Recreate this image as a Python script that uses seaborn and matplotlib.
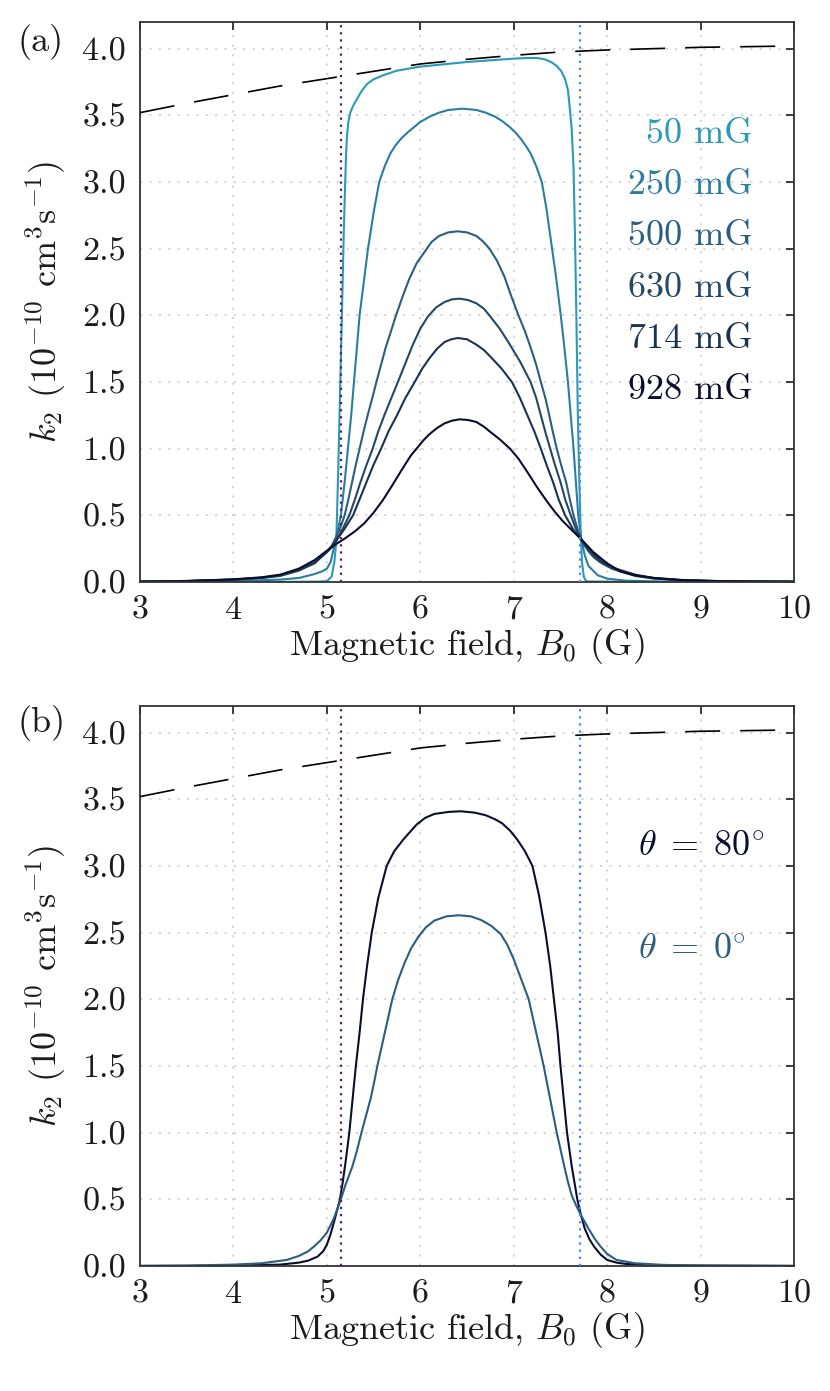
import numpy as np
import pandas as pd
import matplotlib
matplotlib.use("Agg")
import matplotlib.pyplot as plt
import seaborn as sns

# ---- values ----
# panel (a): k2 vs B0 for several field inhomogeneities
field_50 = [3.0, 4.0, 4.6, 4.9, 5.0, 5.05, 5.08, 5.1, 5.12, 5.14, 5.16, 5.18, 5.196, 5.205, 5.215, 5.23,
            5.25, 5.28, 5.32, 5.37, 5.43, 5.5, 5.6, 5.75, 6.0, 6.5, 7.0, 7.15, 7.25, 7.33, 7.4,
            7.46, 7.51, 7.55, 7.58, 7.6, 7.62, 7.64, 7.655, 7.67, 7.685, 7.7, 7.715, 7.73, 7.75,
            7.77, 7.8, 8.5, 10.0]
k2_50 = [0.0, 0.0, 0.001, 0.003, 0.006, 0.04, 0.15, 0.3, 0.8, 1.4, 1.98, 2.6, 3.0, 3.2, 3.35, 3.45,
         3.52, 3.57, 3.62, 3.68, 3.735, 3.77, 3.8, 3.835, 3.865, 3.9, 3.925, 3.93, 3.93, 3.92, 3.9,
         3.87, 3.83, 3.77, 3.69, 3.55, 3.4, 3.1, 2.6, 2.0, 1.3, 0.8, 0.4, 0.15, 0.04,
         0.01, 0.004, 0.0, 0.0]

field_250 = [3.0, 3.5, 4.0, 4.5, 4.7, 4.87, 4.95, 5.0, 5.04, 5.08, 5.12, 5.15, 5.19, 5.225, 5.26, 5.29,
             5.32, 5.35, 5.395, 5.44, 5.5, 5.56, 5.62, 5.68, 5.74, 5.8, 5.87, 5.93, 6.0, 6.1, 6.2,
             6.3, 6.45, 6.6, 6.7, 6.8, 6.88, 6.96, 7.02, 7.08, 7.13, 7.18, 7.24, 7.3, 7.35, 7.4,
             7.45, 7.5, 7.54, 7.58, 7.61, 7.64, 7.665, 7.69, 7.72, 7.76, 7.8, 7.9, 8.0, 8.2, 8.6, 10.0]
k2_250 = [0.001, 0.003, 0.007, 0.018, 0.03, 0.06, 0.08, 0.1, 0.15, 0.27, 0.4, 0.5, 0.75, 1.0, 1.25, 1.5,
          1.75, 2.0, 2.25, 2.5, 2.77, 3.0, 3.12, 3.215, 3.28, 3.33, 3.375, 3.41, 3.45, 3.49, 3.52,
          3.54, 3.55, 3.54, 3.52, 3.49, 3.455, 3.41, 3.37, 3.32, 3.27, 3.215, 3.12, 3.0, 2.8, 2.55,
          2.3, 2.02, 1.77, 1.5, 1.25, 1.0, 0.75, 0.5, 0.33, 0.2, 0.12, 0.05, 0.025, 0.01, 0.003, 0.001]

field_500 = [3.0, 3.5, 4.0, 4.3, 4.5, 4.7, 4.87, 5.0, 5.05, 5.1, 5.15, 5.19, 5.23, 5.27, 5.31, 5.35,
             5.4, 5.44, 5.49, 5.53, 5.58, 5.63, 5.69, 5.74, 5.81, 5.88, 5.96, 6.05, 6.12, 6.2, 6.3,
             6.4, 6.5, 6.6, 6.67, 6.74, 6.82, 6.9, 6.97, 7.05, 7.12, 7.18, 7.24, 7.29, 7.34, 7.38,
             7.42, 7.46, 7.51, 7.56, 7.6, 7.64, 7.69, 7.75, 7.8, 7.85, 7.92, 8.0, 8.14, 8.3, 8.5,
             8.8, 9.2, 9.6, 10.0]
k2_500 = [0.002, 0.006, 0.016, 0.03, 0.045, 0.085, 0.14, 0.23, 0.27, 0.34, 0.42, 0.5, 0.62, 0.75, 0.88, 1.0,
          1.15, 1.26, 1.39, 1.5, 1.63, 1.76, 1.89, 2.0, 2.14, 2.27, 2.39, 2.48, 2.55, 2.595, 2.622,
          2.63, 2.622, 2.595, 2.555, 2.5, 2.41, 2.29, 2.15, 2.0, 1.88, 1.76, 1.63, 1.5, 1.375, 1.25,
          1.12, 1.0, 0.87, 0.75, 0.62, 0.5, 0.38, 0.28, 0.23, 0.19, 0.15, 0.12, 0.08, 0.045, 0.025,
          0.012, 0.005, 0.003, 0.002]

field_630 = [3.0, 3.5, 4.0, 4.3, 4.5, 4.7, 4.87, 5.0, 5.05, 5.1, 5.17, 5.24, 5.3, 5.36, 5.42, 5.49,
             5.55, 5.62, 5.69, 5.76, 5.84, 5.92, 6.0, 6.08, 6.17, 6.26, 6.34, 6.42, 6.51, 6.6, 6.68,
             6.75, 6.85, 6.95, 7.07, 7.18, 7.24, 7.29, 7.34, 7.39, 7.44, 7.5, 7.55, 7.61, 7.67, 7.73,
             7.8, 7.87, 7.95, 8.05, 8.14, 8.3, 8.5, 8.8, 9.2, 9.6, 10.0]
k2_630 = [0.002, 0.007, 0.018, 0.032, 0.05, 0.09, 0.145, 0.225, 0.26, 0.31, 0.4, 0.5, 0.62, 0.75, 0.87, 1.0,
          1.13, 1.26, 1.38, 1.5, 1.64, 1.78, 1.9, 1.99, 2.06, 2.1, 2.12, 2.125, 2.115, 2.09, 2.05,
          1.99, 1.9, 1.79, 1.65, 1.5, 1.38, 1.25, 1.12, 1.0, 0.88, 0.75, 0.62, 0.5, 0.39, 0.31,
          0.24, 0.18, 0.14, 0.1, 0.08, 0.05, 0.028, 0.013, 0.006, 0.003, 0.002]

field_714 = [3.0, 3.5, 4.0, 4.3, 4.5, 4.7, 4.87, 5.0, 5.05, 5.1, 5.19, 5.28, 5.35, 5.43, 5.5, 5.58,
             5.66, 5.75, 5.84, 5.94, 6.02, 6.1, 6.18, 6.26, 6.33, 6.4, 6.5, 6.6, 6.68, 6.75, 6.87,
             6.98, 7.06, 7.14, 7.22, 7.29, 7.35, 7.42, 7.48, 7.55, 7.64, 7.73, 7.8, 7.88, 7.95, 8.05,
             8.14, 8.3, 8.5, 8.8, 9.2, 9.6, 10.0]
k2_714 = [0.003, 0.007, 0.018, 0.032, 0.05, 0.09, 0.145, 0.225, 0.265, 0.31, 0.4, 0.5, 0.62, 0.76, 0.88, 1.0,
          1.13, 1.25, 1.38, 1.5, 1.6, 1.68, 1.75, 1.8, 1.82, 1.83, 1.82, 1.78, 1.74, 1.69, 1.6,
          1.5, 1.39, 1.26, 1.13, 1.0, 0.88, 0.75, 0.62, 0.5, 0.39, 0.31, 0.25, 0.19, 0.15, 0.11,
          0.09, 0.055, 0.03, 0.014, 0.006, 0.003, 0.002]

field_928 = [3.0, 3.5, 4.0, 4.3, 4.5, 4.7, 4.87, 5.0, 5.1, 5.2, 5.3, 5.4, 5.5, 5.6, 5.7, 5.8,
             5.9, 5.96, 6.03, 6.1, 6.18, 6.26, 6.34, 6.42, 6.51, 6.6, 6.68, 6.75, 6.85, 6.96, 7.05,
             7.15, 7.25, 7.35, 7.43, 7.52, 7.62, 7.73, 7.85, 8.0, 8.14, 8.3, 8.5, 8.8, 9.2, 9.6, 10.0]
k2_928 = [0.003, 0.008, 0.02, 0.035, 0.055, 0.1, 0.165, 0.235, 0.285, 0.33, 0.38, 0.44, 0.52, 0.615, 0.725, 0.84,
          0.95, 1.0, 1.06, 1.11, 1.155, 1.19, 1.21, 1.22, 1.215, 1.2, 1.165, 1.125, 1.07, 1.0, 0.925,
          0.82, 0.71, 0.61, 0.535, 0.46, 0.39, 0.315, 0.225, 0.14, 0.08, 0.05, 0.03, 0.015, 0.007, 0.004, 0.002]

# panel (b): two angles
field_th80 = [3.0, 3.5, 4.0, 4.5, 4.7, 4.8, 4.9, 4.96, 5.0, 5.04, 5.08, 5.11, 5.14, 5.17, 5.2, 5.24,
              5.275, 5.31, 5.35, 5.386, 5.43, 5.48, 5.55, 5.64, 5.72, 5.82, 5.96, 6.05, 6.15, 6.3,
              6.43, 6.58, 6.7, 6.8, 6.875, 6.96, 7.04, 7.12, 7.2, 7.27, 7.34, 7.39, 7.43, 7.47,
              7.5, 7.535, 7.57, 7.62, 7.68, 7.72, 7.76, 7.81, 7.86, 7.93, 8.0, 8.1, 8.2, 8.5, 9.0, 10.0]
k2_th80 = [0.0, 0.001, 0.003, 0.01, 0.025, 0.04, 0.07, 0.11, 0.16, 0.24, 0.34, 0.42, 0.5, 0.63, 0.78, 1.0,
           1.25, 1.5, 1.75, 2.0, 2.25, 2.5, 2.76, 3.0, 3.11, 3.2, 3.31, 3.36, 3.39, 3.405,
           3.41, 3.4, 3.38, 3.35, 3.32, 3.265, 3.195, 3.11, 3.0, 2.78, 2.5, 2.25, 2.0, 1.75,
           1.5, 1.25, 1.0, 0.75, 0.5, 0.38, 0.28, 0.2, 0.145, 0.085, 0.045, 0.025, 0.015, 0.006, 0.002, 0.0]

field_th0 = [3.0, 3.5, 4.0, 4.3, 4.57, 4.7, 4.8, 4.86, 4.93, 5.0, 5.07, 5.14, 5.2, 5.27, 5.32, 5.37,
             5.42, 5.47, 5.505, 5.54, 5.58, 5.62, 5.66, 5.7, 5.76, 5.83, 5.9, 5.98, 6.06, 6.15, 6.28,
             6.41, 6.54, 6.65, 6.76, 6.86, 6.93, 7.0, 7.08, 7.16, 7.2, 7.24, 7.28, 7.32, 7.355, 7.39,
             7.425, 7.46, 7.5, 7.54, 7.58, 7.62, 7.67, 7.72, 7.8, 7.87, 7.93, 8.0, 8.1, 8.3, 8.6,
             9.0, 10.0]
k2_th0 = [0.001, 0.003, 0.01, 0.02, 0.045, 0.075, 0.11, 0.145, 0.19, 0.25, 0.35, 0.48, 0.61, 0.74, 0.86, 1.0,
          1.13, 1.26, 1.375, 1.5, 1.625, 1.75, 1.875, 2.0, 2.14, 2.27, 2.38, 2.47, 2.54, 2.59, 2.622,
          2.63, 2.622, 2.595, 2.55, 2.49, 2.41, 2.3, 2.15, 2.0, 1.875, 1.75, 1.625, 1.5, 1.375, 1.25,
          1.125, 1.0, 0.875, 0.75, 0.63, 0.53, 0.45, 0.38, 0.28, 0.2, 0.145, 0.09, 0.045, 0.02, 0.008,
          0.004, 0.001]

# dashed upper bound (same in both panels)
field_bound = [3.0, 3.5, 4.0, 4.5, 5.0, 5.5, 6.0, 6.5, 7.0, 7.5, 8.0, 8.5, 9.0, 9.5, 10.0]
k2_bound = [3.52, 3.59, 3.655, 3.72, 3.775, 3.83, 3.885, 3.92, 3.95, 3.975, 3.99, 4.0, 4.01, 4.015, 4.02]

# vertical markers
b_low = 5.15
b_high = 7.71

labels_a = ["50 mG", "250 mG", "500 mG", "630 mG", "714 mG", "928 mG"]
colors_a = ["#2a9ab8", "#2b7ea0", "#2b5e80", "#254866", "#1b3352", "#0a0f2c"]
curves_a = [(field_50, k2_50), (field_250, k2_250), (field_500, k2_500),
            (field_630, k2_630), (field_714, k2_714), (field_928, k2_928)]

labels_b = [r"$\theta\;=\;80^{\circ}$", r"$\theta\;=\;0^{\circ}$"]
colors_b = ["#0a0f2c", "#2b5e80"]
curves_b = [(field_th80, k2_th80), (field_th0, k2_th0)]

# ---- style ----
sns.set_style("white")
plt.rcParams["font.family"] = "serif"
plt.rcParams["font.serif"] = ["cmr10"]
plt.rcParams["mathtext.fontset"] = "cm"
plt.rcParams["axes.formatter.use_mathtext"] = True
plt.rcParams["axes.unicode_minus"] = False

TXT = "#1c1c1c"

fig = plt.figure(figsize=(8.3, 13.91), dpi=100)
ax_a = fig.add_axes([0.1687, 0.5816, 0.788, 0.4026])
ax_b = fig.add_axes([0.1687, 0.0899, 0.788, 0.4026])


def style_axes(ax):
    ax.set_xlim(3, 10)
    ax.set_ylim(0, 4.2)
    ax.set_xticks(np.arange(3, 11, 1))
    ax.set_yticks(np.arange(0, 4.01, 0.5))
    ax.set_xticklabels([f"{v:d}" for v in range(3, 11)])
    ax.set_yticklabels([f"{v:.1f}" for v in np.arange(0, 4.01, 0.5)])
    ax.grid(True, color="#d2d2d2", linestyle=(0, (1.2, 4)), linewidth=1.3)
    ax.set_axisbelow(True)
    ax.tick_params(direction="in", top=True, right=True, length=6, width=1.2,
                   labelsize=24.5, colors=TXT, pad=10)
    for s in ax.spines.values():
        s.set_color("#333333")
        s.set_linewidth(1.3)
    ax.set_xlabel(r"Magnetic field, $B_0$ (G)", fontsize=26, color=TXT, labelpad=0.5)
    ax.set_ylabel(r"$k_2$ ($10^{-10}$ cm$^3$s$^{-1}$)", fontsize=26, color=TXT, labelpad=10)


def draw_markers(ax):
    ax.axvline(b_low, color="#5a1a6a", linestyle=(0, (1, 2.2)), linewidth=1.6, zorder=3)
    ax.axvline(b_high, color="#3d8bff", linestyle=(0, (1, 2.2)), linewidth=1.6, zorder=3)
    sns.lineplot(x=field_bound, y=k2_bound, ax=ax, color="black", linewidth=1.2,
                 linestyle=(0, (21, 12)), zorder=4)


# panel (a)
for (fx, fy), col in zip(curves_a, colors_a):
    sns.lineplot(x=fx, y=fy, ax=ax_a, color=col, linewidth=1.5, zorder=2)
draw_markers(ax_a)
style_axes(ax_a)
for i, (lab, col) in enumerate(zip(labels_a, colors_a)):
    ax_a.text(9.56, 3.36 - 0.385 * i, lab, color=col, fontsize=26,
              ha="right", va="center")

# panel (b)
for (fx, fy), col in zip(curves_b, colors_b):
    sns.lineplot(x=fx, y=fy, ax=ax_b, color=col, linewidth=1.5, zorder=2)
draw_markers(ax_b)
style_axes(ax_b)
ax_b.text(8.33, 3.14, labels_b[0], color=colors_b[0], fontsize=26, ha="left", va="center")
ax_b.text(8.33, 2.37, labels_b[1], color=colors_b[1], fontsize=26, ha="left", va="center")

fig.text(0.021, 0.970, "(a)", fontsize=26, color=TXT, va="center")
fig.text(0.021, 0.4805, "(b)", fontsize=26, color=TXT, va="center")

fig.savefig("out.png", dpi=100)
